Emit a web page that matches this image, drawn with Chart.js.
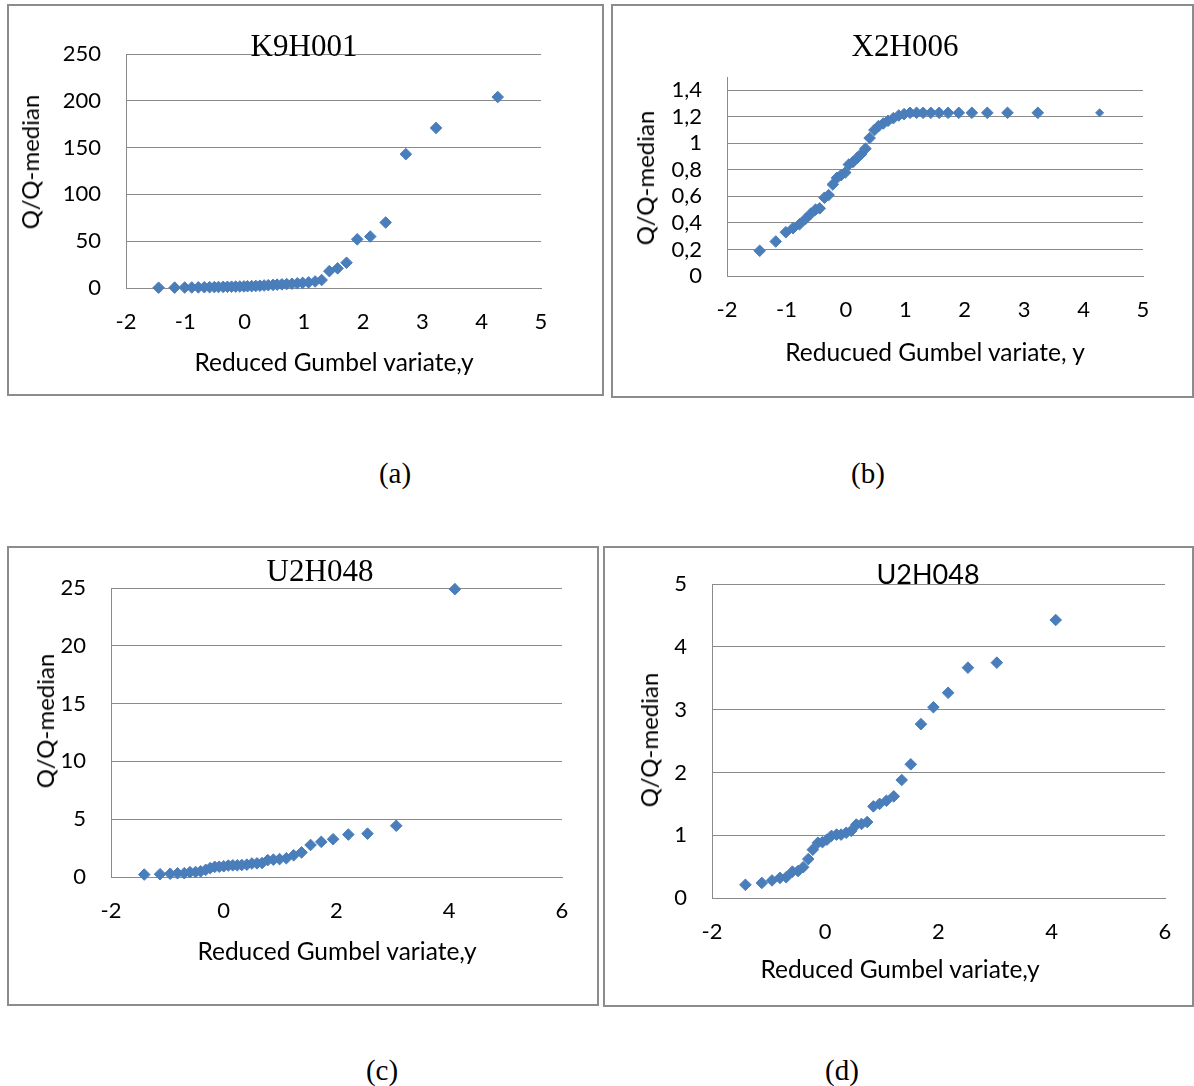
<!DOCTYPE html>
<html>
<head>
<meta charset="utf-8">
<script src="https://cdn.jsdelivr.net/npm/chart.js@4.4.1/dist/chart.umd.min.js"></script>
<style>
  html, body { margin: 0; padding: 0; background: #ffffff; }
  body { width: 1194px; height: 1086px; position: relative; overflow: hidden; }
  .box { position: absolute; border: 2px solid #8c8c8c; box-sizing: border-box; }
  canvas { position: absolute; }
  .t { position: absolute; white-space: nowrap; color: #000; line-height: 1; transform: translate(-50%, -50%); }
  .serif { font-family: "Liberation Serif", "DejaVu Serif", serif; }
  .sans { font-family: Lato, "Open Sans", sans-serif; }
  .rot { transform: translate(-50%, -50%) rotate(-90deg); }
</style>
</head>
<body>
<div class="box" style="left:7px;top:4px;width:597px;height:392px"></div>
<div class="box" style="left:611px;top:4px;width:583px;height:394px"></div>
<div class="box" style="left:7px;top:546px;width:592px;height:460px"></div>
<div class="box" style="left:603px;top:546px;width:591px;height:461px"></div>

<canvas id="cA" width="597" height="392" style="left:7px;top:4px"></canvas>
<canvas id="cB" width="583" height="394" style="left:611px;top:4px"></canvas>
<canvas id="cC" width="592" height="460" style="left:7px;top:546px"></canvas>
<canvas id="cD" width="591" height="461" style="left:603px;top:546px"></canvas>

<div class="t serif" style="left:304px;top:45px;font-size:31px">K9H001</div>
<div class="t serif" style="left:905px;top:45px;font-size:31px">X2H006</div>
<div class="t serif" style="left:320px;top:570px;font-size:31px">U2H048</div>
<div class="t sans" style="left:928px;top:573px;font-size:27px">U2H048</div>

<div class="t sans rot" style="left:30px;top:162px;font-size:24px">Q/Q-median</div>
<div class="t sans rot" style="left:645px;top:178px;font-size:24px">Q/Q-median</div>
<div class="t sans rot" style="left:45px;top:721px;font-size:24px">Q/Q-median</div>
<div class="t sans rot" style="left:649px;top:740px;font-size:24px">Q/Q-median</div>

<div class="t sans" style="left:334px;top:362px;font-size:24.5px">Reduced Gumbel variate,y</div>
<div class="t sans" style="left:935px;top:352px;font-size:24.5px">Reducued Gumbel variate, y</div>
<div class="t sans" style="left:337px;top:951px;font-size:24.5px">Reduced Gumbel variate,y</div>
<div class="t sans" style="left:900px;top:969px;font-size:24.5px">Reduced Gumbel variate,y</div>

<div class="t serif" style="left:395px;top:473px;font-size:29px">(a)</div>
<div class="t serif" style="left:868px;top:473px;font-size:29px">(b)</div>
<div class="t serif" style="left:382px;top:1070px;font-size:29px">(c)</div>
<div class="t serif" style="left:842px;top:1070px;font-size:29px">(d)</div>

<script>
// ---- data ----
// (a) K9H001
const gumbelA = [-1.45,-1.18,-1.01,-0.89,-0.78,-0.68,-0.59,-0.51,-0.44,-0.36,-0.29,-0.22,-0.15,-0.08,-0.01,0.05,0.12,0.19,0.26,0.33,0.40,0.48,0.55,0.63,0.71,0.80,0.89,0.98,1.08,1.19,1.30,1.43,1.57,1.72,1.90,2.12,2.38,2.72,3.23,4.27];
const ratioA = [0.3,0.4,0.5,0.6,0.7,0.8,0.9,1.0,1.1,1.2,1.3,1.4,1.5,1.6,1.7,1.9,2.0,2.2,2.4,2.7,3.0,3.3,3.6,3.9,4.2,4.6,5.0,5.5,6.0,7.0,8.5,18,21,27,52,55,70,143,171,204];
// (b) X2H006
const gumbelB = [-1.45,-1.18,-1.01,-0.89,-0.78,-0.68,-0.59,-0.51,-0.44,-0.36,-0.29,-0.22,-0.15,-0.08,-0.01,0.05,0.12,0.19,0.26,0.33,0.40,0.48,0.55,0.63,0.71,0.80,0.89,0.98,1.08,1.19,1.30,1.43,1.57,1.72,1.90,2.12,2.38,2.72,3.23,4.27];
const ratioB = [0.19,0.26,0.33,0.36,0.39,0.43,0.47,0.50,0.51,0.59,0.61,0.69,0.74,0.76,0.78,0.84,0.86,0.89,0.92,0.96,1.04,1.10,1.13,1.15,1.17,1.19,1.21,1.22,1.23,1.23,1.23,1.23,1.23,1.23,1.23,1.23,1.23,1.23,1.23,1.23];
// (c) U2H048 (with outlier)
const gumbelC = [-1.41,-1.13,-0.95,-0.82,-0.70,-0.60,-0.50,-0.41,-0.32,-0.24,-0.16,-0.08,0.00,0.08,0.16,0.24,0.32,0.41,0.50,0.59,0.68,0.78,0.88,0.99,1.11,1.24,1.38,1.54,1.73,1.94,2.21,2.55,3.06,4.10];
const ratioC = [0.21,0.24,0.28,0.32,0.33,0.42,0.43,0.49,0.62,0.77,0.88,0.89,0.93,0.99,1.01,1.01,1.04,1.07,1.17,1.18,1.21,1.46,1.50,1.55,1.62,1.88,2.13,2.77,3.04,3.27,3.67,3.75,4.43,24.9];
// (d) U2H048
const gumbelD = [-1.41,-1.12,-0.94,-0.80,-0.69,-0.58,-0.48,-0.39,-0.30,-0.22,-0.13,-0.05,0.03,0.11,0.20,0.28,0.37,0.46,0.55,0.64,0.74,0.85,0.96,1.08,1.21,1.35,1.51,1.69,1.91,2.17,2.52,3.03,4.07];
const ratioD = [0.21,0.24,0.28,0.32,0.33,0.42,0.43,0.49,0.62,0.77,0.88,0.89,0.93,0.99,1.01,1.01,1.04,1.07,1.17,1.18,1.21,1.46,1.50,1.55,1.62,1.88,2.13,2.77,3.04,3.27,3.67,3.75,4.43];

// axis ranges / tick steps
const xTicksAB = [-2, 5, 1];
const xTicksCD = [-2, 6, 2];
const yTicksA = [0, 250, 50];
const yTicksB = [0, 1.5, 0.2];
const yTicksC = [0, 25, 5];
const yTicksD = [0, 5, 1];

// ---- styling ----
const BLUE = '#4a7ebb';
const GRID = '#8a8a8a';
const TICKFONT = { family: 'Lato', size: 22, lineHeight: 1.2 };

function makeChart(id, xs, ys, xr, yr, geo, extra) {
  extra = extra || {};
  const pts = xs.map((x, i) => ({ x: x, y: ys[i] }));
  const n = pts.length;
  new Chart(document.getElementById(id), {
    type: 'scatter',
    data: {
      datasets: [{
        data: pts,
        pointStyle: 'rectRot',
        pointRadius: extra.smallLast ? (ctx => ctx.dataIndex === n - 1 ? 4 : 5.8) : 5.8,
        backgroundColor: BLUE,
        borderColor: BLUE,
        borderWidth: 1,
        clip: false
      }]
    },
    options: {
      responsive: false,
      animation: false,
      devicePixelRatio: 1,
      layout: { autoPadding: false, padding: { left: 0, top: geo.top, right: geo.right, bottom: 0 } },
      plugins: { legend: { display: false }, tooltip: { enabled: false }, title: { display: false } },
      scales: {
        x: {
          type: 'linear', position: 'bottom',
          min: xr[0], max: xr[1],
          ticks: { stepSize: xr[2], padding: 21, font: TICKFONT, color: '#000', maxRotation: 0, autoSkip: false },
          grid: { display: false, drawTicks: false },
          border: { display: true, color: GRID, width: 1 },
          afterFit: s => { s.height = geo.xh; }
        },
        y: {
          type: 'linear', position: 'left',
          min: yr[0], max: yr[1],
          ticks: {
            stepSize: yr[2], padding: 25, font: TICKFONT, color: '#000', autoSkip: false,
            includeBounds: extra.includeBounds !== false,
            callback: extra.comma ? (v => String(Math.round(v * 10) / 10).replace('.', ',')) : undefined
          },
          grid: { display: true, drawTicks: false, color: GRID, lineWidth: 1 },
          border: { display: true, color: GRID, width: 1 },
          afterFit: s => { s.width = geo.yw; }
        }
      }
    }
  });
}

// geometry: canvas-relative plot area (yw = left, top, right padding, xh = bottom)
makeChart('cA', gumbelA, ratioA, xTicksAB, yTicksA, { yw: 126 - 7, top: 54 - 4, right: 597 - (541 - 7), xh: 392 - (288 - 4) });
makeChart('cB', gumbelB, ratioB, xTicksAB, yTicksB, { yw: 727 - 611, top: 77 - 4, right: 583 - (1143 - 611), xh: 394 - (276 - 4) }, { comma: true, includeBounds: false, smallLast: true });
makeChart('cC', gumbelC, ratioC, xTicksCD, yTicksC, { yw: 111 - 7, top: 588 - 546, right: 592 - (562 - 7), xh: 460 - (877 - 546) });
makeChart('cD', gumbelD, ratioD, xTicksCD, yTicksD, { yw: 712 - 603, top: 581 - 546, right: 591 - (1165 - 603), xh: 461 - (898 - 546) });
</script>
</body>
</html>
